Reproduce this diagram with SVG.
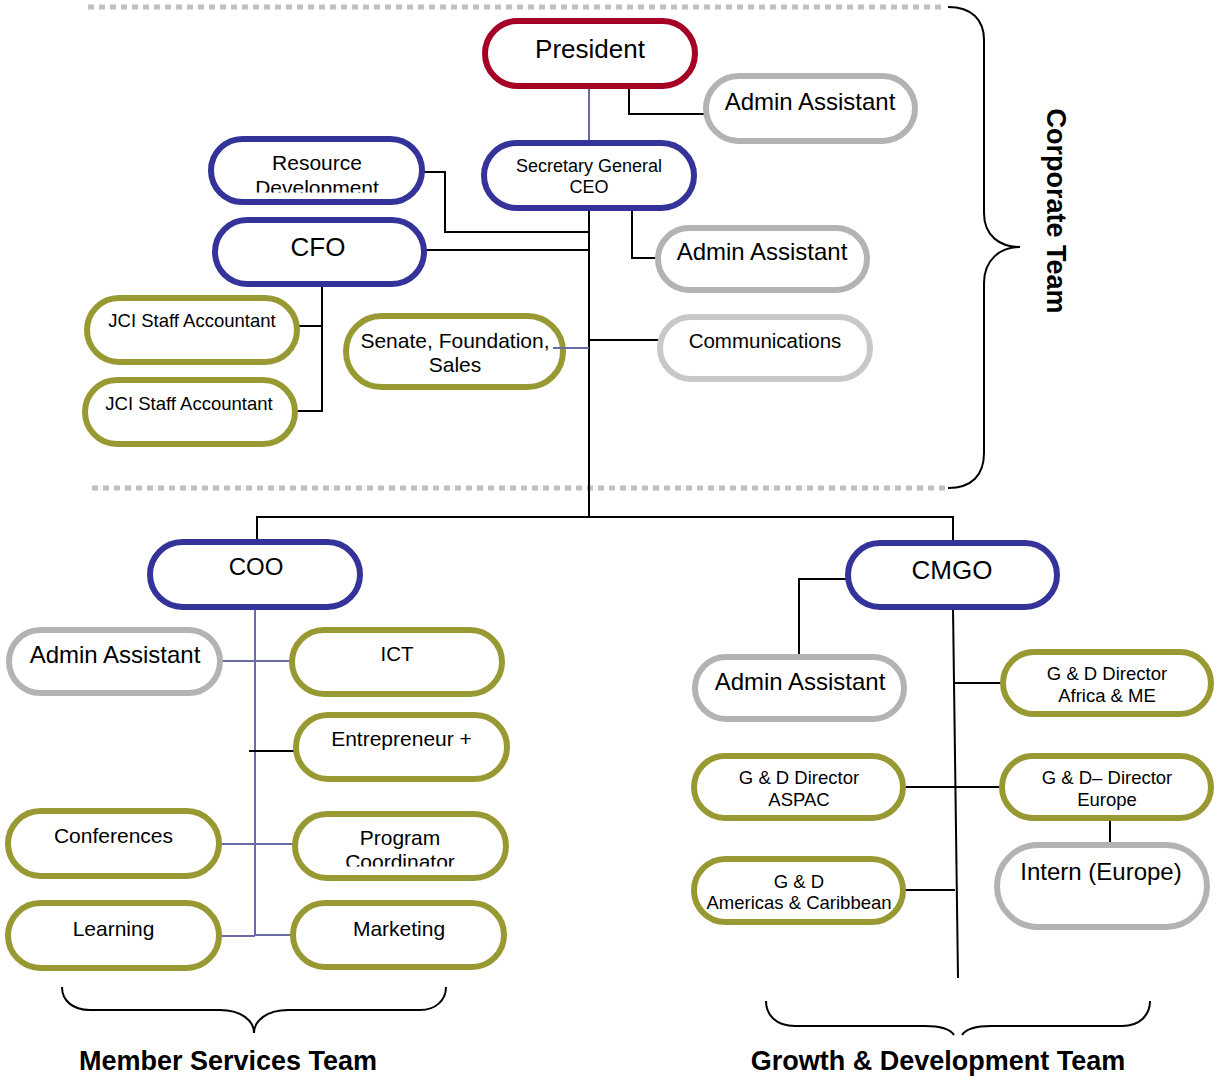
<svg xmlns="http://www.w3.org/2000/svg" width="1216" height="1078" viewBox="0 0 1216 1078">
<style>
.n{fill:#fff;stroke-width:6}
.red{stroke:#a50026}
.blue{stroke:#333399}
.olive{stroke:#999933}
.gray{stroke:#b3b3b3}
.lgray{stroke:#c8c8c8}
text{font-family:"Liberation Sans",Arial,sans-serif;fill:#000;text-anchor:middle}
.k{stroke:#000;stroke-width:2;fill:none}
.p{stroke:#6a6aa4;stroke-width:2;fill:none}
.dash{stroke:#c0c0c0;stroke-width:5;stroke-dasharray:6 5;fill:none}
.br{stroke:#000;stroke-width:2;fill:none}
.team{font-weight:bold;font-size:27px}
</style>
<defs>
<clipPath id="clipRD"><rect x="200" y="130" width="240" height="62.5"/></clipPath>
<clipPath id="clipPC"><rect x="290" y="805" width="225" height="61.5"/></clipPath>
</defs>
<g id="bands">
<line class="dash" x1="88" y1="7" x2="945" y2="7"/>
<line class="dash" x1="92" y1="488" x2="948" y2="488"/>
<path class="br" d="M948,7 C972,7 984,20 984,40 L984,213 C984,236 1000,247 1020,247 C1000,247 984,260 984,283 L984,453 C984,475 972,488 948,488"/>
<path class="br" d="M62,987 C62,1000 72,1010 90,1010 L220,1010 C240,1010 254,1020 254,1033 C254,1020 268,1010 288,1010 L420,1010 C436,1010 446,1000 446,987"/>
<path class="br" d="M766,1001 C766,1015 776,1026 795,1026 L925,1026 C940,1026 950,1029 954,1035 M962,1035 C966,1029 976,1026 991,1026 L1122,1026 C1140,1026 1150,1015 1150,1001"/>
<text class="team" transform="translate(1047,211) rotate(90)" x="0" y="0">Corporate Team</text>
<text class="team" x="228" y="1070">Member Services Team</text>
<text class="team" x="938" y="1070">Growth &amp; Development Team</text>
</g>
<g id="connectors">
<line class="p" x1="589" y1="87" x2="589" y2="142"/>
<polyline class="k" points="629,87 629,114 704,114"/>
<line class="k" x1="589" y1="209" x2="589" y2="517"/>
<polyline class="k" points="632,209 632,258 657,258"/>
<polyline class="k" points="422,172 445,172 445,232 589,232"/>
<line class="k" x1="424" y1="250" x2="589" y2="250"/>
<polyline class="k" points="322,285 322,411 297,411"/>
<line class="k" x1="298" y1="326" x2="322" y2="326"/>
<line class="p" x1="553" y1="348" x2="589" y2="348"/>
<line class="k" x1="589" y1="340" x2="659" y2="340"/>
<polyline class="k" points="257,542 257,517 953,517 953,542"/>
<line class="p" x1="255" y1="608" x2="255" y2="936"/>
<line class="p" x1="222" y1="661" x2="291" y2="661"/>
<line class="k" x1="249" y1="751" x2="297" y2="751"/>
<line class="p" x1="221" y1="844" x2="294" y2="844"/>
<line class="p" x1="221" y1="936" x2="255" y2="936"/>
<line class="p" x1="255" y1="935" x2="292" y2="935"/>
<polyline class="k" points="847,579 799,579 799,655"/>
<line class="k" x1="953" y1="608" x2="958" y2="978"/>
<line class="k" x1="955" y1="683" x2="1002" y2="683"/>
<line class="k" x1="905" y1="787" x2="1001" y2="787"/>
<line class="k" x1="905" y1="890" x2="955" y2="890"/>
<line class="k" x1="1110" y1="820" x2="1110" y2="845"/>
</g>
<g id="president"><rect class="n red" x="485" y="21" width="210" height="65" rx="32.5"/><text x="590" y="58" font-size="26">President</text></g>
<g id="admin-president"><rect class="n gray" x="706" y="76" width="209" height="65" rx="32.5"/><text x="810" y="110" font-size="24">Admin Assistant</text></g>
<g id="secgen"><rect class="n blue" x="484" y="143" width="210" height="65" rx="32.5"/><text x="589" y="172" font-size="18">Secretary General</text><text x="589" y="193" font-size="18">CEO</text></g>
<g id="resource"><rect class="n blue" x="211" y="139" width="211" height="63" rx="31.5"/><text x="317" y="170" font-size="21">Resource</text><text x="317" y="195" font-size="21" clip-path="url(#clipRD)">Development</text></g>
<g id="cfo"><rect class="n blue" x="215" y="220" width="209" height="64" rx="32"/><text x="318" y="256" font-size="26">CFO</text></g>
<g id="admin-ceo"><rect class="n gray" x="658" y="228" width="209" height="62" rx="31"/><text x="762" y="260" font-size="24">Admin Assistant</text></g>
<g id="jci1"><rect class="n olive" x="87" y="298" width="210" height="64" rx="32"/><text x="192" y="327" font-size="18.5">JCI Staff Accountant</text></g>
<g id="jci2"><rect class="n olive" x="85" y="380" width="210" height="64" rx="32"/><text x="189" y="410" font-size="18.5">JCI Staff Accountant</text></g>
<g id="senate"><rect class="n olive" x="346" y="316" width="217" height="71" rx="35.5"/><text x="455" y="348" font-size="21">Senate, Foundation,</text><text x="455" y="372" font-size="21">Sales</text></g>
<line class="p" x1="553" y1="348" x2="566" y2="348"/>
<g id="communications"><rect class="n lgray" x="660" y="317" width="210" height="62" rx="31"/><text x="765" y="348" font-size="20.5">Communications</text></g>
<g id="coo"><rect class="n blue" x="150" y="542" width="210" height="65" rx="32.5"/><text x="256" y="575" font-size="24">COO</text></g>
<g id="cmgo"><rect class="n blue" x="848" y="543" width="209" height="64" rx="32"/><text x="952" y="579" font-size="26">CMGO</text></g>
<g id="admin-coo"><rect class="n gray" x="9" y="630" width="211" height="63" rx="31.5"/><text x="115" y="663" font-size="24">Admin Assistant</text></g>
<g id="ict"><rect class="n olive" x="292" y="630" width="210" height="64" rx="32"/><text x="397" y="661" font-size="20.5">ICT</text></g>
<g id="entrepreneur"><rect class="n olive" x="296" y="715" width="211" height="64" rx="32"/><text x="401.5" y="746" font-size="21">Entrepreneur +</text></g>
<g id="conferences"><rect class="n olive" x="8" y="811" width="211" height="65" rx="32.5"/><text x="113.5" y="843" font-size="21">Conferences</text></g>
<g id="program"><rect class="n olive" x="295" y="814" width="211" height="64" rx="32"/><text x="400" y="845" font-size="21">Program</text><text x="400" y="869" font-size="21" clip-path="url(#clipPC)">Coordinator</text></g>
<g id="learning"><rect class="n olive" x="8" y="903" width="211" height="65" rx="32.5"/><text x="113.5" y="936" font-size="21">Learning</text></g>
<g id="marketing"><rect class="n olive" x="293" y="903" width="211" height="64" rx="32"/><text x="399" y="936" font-size="21">Marketing</text></g>
<g id="admin-cmgo"><rect class="n gray" x="695" y="657" width="209" height="62" rx="31"/><text x="800" y="690" font-size="24">Admin Assistant</text></g>
<g id="africa"><rect class="n olive" x="1003" y="652" width="208" height="62" rx="31"/><text x="1107" y="680" font-size="18.5">G &amp; D Director</text><text x="1107" y="702" font-size="18.5">Africa &amp; ME</text></g>
<g id="aspac"><rect class="n olive" x="694" y="756" width="209" height="62" rx="31"/><text x="799" y="784" font-size="18.5">G &amp; D Director</text><text x="799" y="806" font-size="18.5">ASPAC</text></g>
<g id="europe"><rect class="n olive" x="1002" y="756" width="209" height="62" rx="31"/><text x="1107" y="784" font-size="18.5">G &amp; D– Director</text><text x="1107" y="806" font-size="18.5">Europe</text></g>
<g id="americas"><rect class="n olive" x="694" y="859" width="209" height="63" rx="31.5"/><text x="799" y="888" font-size="18.5">G &amp; D</text><text x="799" y="909" font-size="18.5">Americas &amp; Caribbean</text></g>
<g id="intern"><rect class="n gray" x="997" y="845" width="210" height="82" rx="41"/><text x="1101" y="880" font-size="24">Intern (Europe)</text></g>
</svg>
